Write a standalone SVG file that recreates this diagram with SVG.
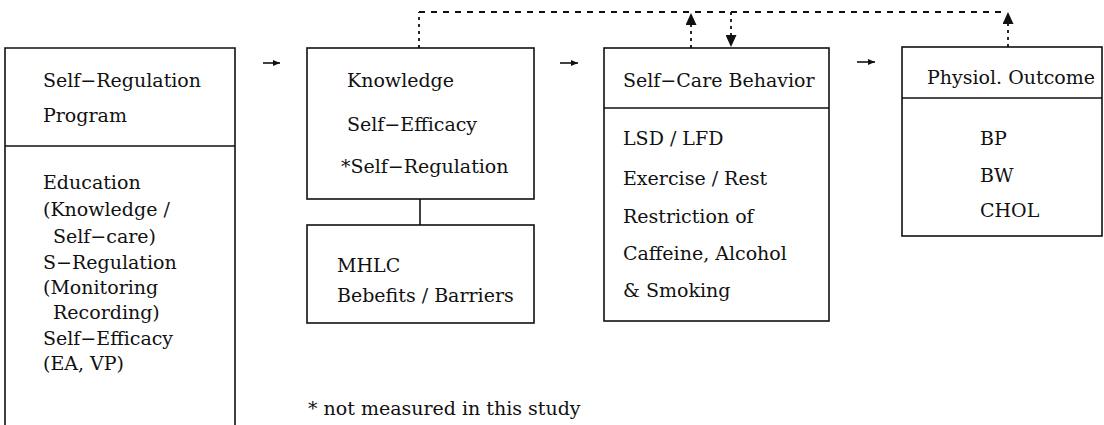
<svg xmlns="http://www.w3.org/2000/svg" width="1104" height="425" viewBox="0 0 1104 425">
<style>
  .box { fill: #fff; stroke: #111; stroke-width: 1.6; }
  .ln { fill: none; stroke: #111; stroke-width: 1.6; }
  .t { font-family: "DejaVu Serif", "Liberation Serif", serif; font-size: 19px; fill: #111; }
  .dash { fill: none; stroke: #111; stroke-width: 1.8; stroke-dasharray: 6 6; }
  .dot { fill: none; stroke: #111; stroke-width: 1.8; stroke-dasharray: 3 4; }
  .arr { fill: none; stroke: #111; stroke-width: 1.6; }
</style>
<defs>
  <marker id="small" markerUnits="userSpaceOnUse" markerWidth="7" markerHeight="6" refX="7" refY="3" orient="auto">
    <path d="M0,0 L7,3 L0,6 z" fill="#111"/>
  </marker>
  <marker id="big" markerUnits="userSpaceOnUse" markerWidth="12" markerHeight="11" refX="12" refY="5.5" orient="auto">
    <path d="M0,0 L12,5.5 L0,11 z" fill="#111"/>
  </marker>
</defs>

<g id="program">
  <path class="ln" d="M5,428 L5,48 L235,48 L235,428"/>
  <line class="ln" x1="5" y1="146" x2="235" y2="146"/>
  <text class="t" x="43" y="87">Self−Regulation</text>
  <text class="t" x="43" y="122">Program</text>
  <text class="t" x="43" y="189">Education</text>
  <text class="t" x="43" y="216">(Knowledge /</text>
  <text class="t" x="53" y="243">Self−care)</text>
  <text class="t" x="43" y="269">S−Regulation</text>
  <text class="t" x="43" y="294">(Monitoring</text>
  <text class="t" x="53" y="319">Recording)</text>
  <text class="t" x="43" y="345">Self−Efficacy</text>
  <text class="t" x="43" y="370">(EA, VP)</text>
</g>

<g id="cognitive">
  <rect class="box" x="307" y="48" width="227" height="151"/>
  <text class="t" x="347" y="87">Knowledge</text>
  <text class="t" x="347" y="131">Self−Efficacy</text>
  <text class="t" x="341" y="173">*Self−Regulation</text>
</g>

<g id="mhlc">
  <rect class="box" x="307" y="225" width="227" height="98"/>
  <text class="t" x="337" y="272">MHLC</text>
  <text class="t" x="337" y="302">Bebefits / Barriers</text>
</g>

<g id="selfcare">
  <rect class="box" x="604" y="48" width="225" height="273"/>
  <line class="ln" x1="604" y1="108" x2="829" y2="108"/>
  <text class="t" x="623" y="87">Self−Care Behavior</text>
  <text class="t" x="623" y="145">LSD / LFD</text>
  <text class="t" x="623" y="185">Exercise / Rest</text>
  <text class="t" x="623" y="223">Restriction of</text>
  <text class="t" x="623" y="260">Caffeine, Alcohol</text>
  <text class="t" x="623" y="297">&amp; Smoking</text>
</g>

<g id="outcome">
  <rect class="box" x="902" y="47" width="200" height="189"/>
  <line class="ln" x1="902" y1="98" x2="1102" y2="98"/>
  <text class="t" x="927" y="84">Physiol. Outcome</text>
  <text class="t" x="980" y="145">BP</text>
  <text class="t" x="980" y="182">BW</text>
  <text class="t" x="980" y="217">CHOL</text>
</g>

<g id="connectors">
  <line class="arr" x1="263" y1="63" x2="280" y2="63" marker-end="url(#small)"/>
  <line class="arr" x1="560" y1="63" x2="578" y2="63" marker-end="url(#small)"/>
  <line class="arr" x1="857" y1="62" x2="875" y2="62" marker-end="url(#small)"/>
  <line class="ln" x1="420" y1="199" x2="420" y2="225"/>
  <line class="dot" x1="419" y1="48" x2="419" y2="12"/>
  <line class="dash" x1="419" y1="12" x2="1004" y2="12"/>
  <line class="dot" x1="691" y1="48" x2="691" y2="13" marker-end="url(#big)"/>
  <line class="dot" x1="731" y1="12" x2="731" y2="47" marker-end="url(#big)"/>
  <line class="dot" x1="1008" y1="47" x2="1008" y2="12" marker-end="url(#big)"/>
</g>

<g id="footnote">
  <text class="t" x="308" y="415">* not measured in this study</text>
</g>
</svg>
